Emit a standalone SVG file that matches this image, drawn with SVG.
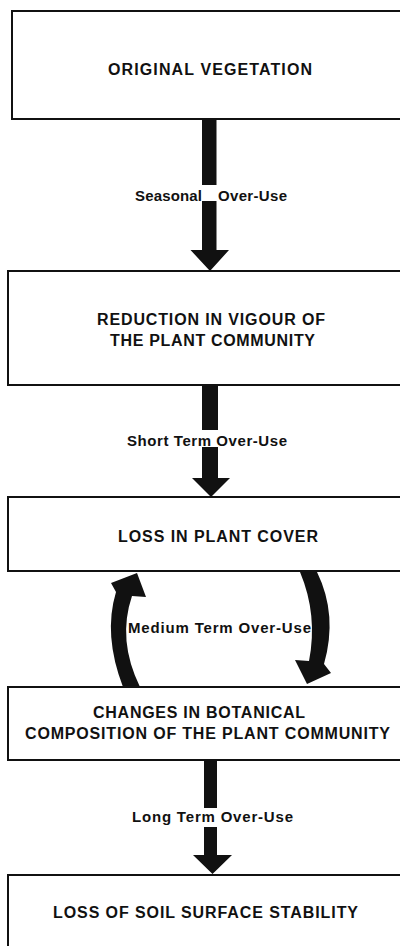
<svg xmlns="http://www.w3.org/2000/svg" width="400" height="946" viewBox="0 0 400 946">
<style>
.box{fill:#fff;stroke:#111;stroke-width:2}
.t{font-family:"Liberation Sans",Arial,sans-serif;font-weight:bold;font-size:16px;fill:#111}
.l{font-family:"Liberation Sans",Arial,sans-serif;font-weight:bold;font-size:15px;fill:#111}
.c{fill:#111;stroke:none}
</style>
<rect width="400" height="946" fill="#fff"/>
<g id="node1">
<rect class="box" x="12" y="11" width="400" height="108"/>
<text class="t" x="108" y="75" textLength="204" lengthAdjust="spacing">ORIGINAL VEGETATION</text>
</g>
<g id="node2">
<rect class="box" x="8" y="271" width="400" height="114"/>
<text class="t" x="97" y="325" textLength="228" lengthAdjust="spacing">REDUCTION IN VIGOUR OF</text>
<text class="t" x="110" y="346" textLength="205" lengthAdjust="spacing">THE PLANT COMMUNITY</text>
</g>
<g id="node3">
<rect class="box" x="8" y="497" width="400" height="74"/>
<text class="t" x="118" y="542" textLength="200" lengthAdjust="spacing">LOSS IN PLANT COVER</text>
</g>
<g id="node4">
<rect class="box" x="8" y="687" width="400" height="73"/>
<text class="t" x="93" y="718" textLength="212" lengthAdjust="spacing">CHANGES IN BOTANICAL</text>
<text class="t" x="25" y="739" textLength="365" lengthAdjust="spacing">COMPOSITION OF THE PLANT COMMUNITY</text>
</g>
<g id="node5">
<rect class="box" x="8" y="875" width="400" height="90"/>
<text class="t" x="53" y="918" textLength="305" lengthAdjust="spacing">LOSS OF SOIL SURFACE STABILITY</text>
</g>
<g id="connectors">
<path class="c" d="M202,120 H216.5 V185 H202 Z M202,201 H216.5 V250 H229 L210,271 L190.5,250 H202 Z"/>
<path class="c" d="M202,386 H218 V430 H202 Z M202,447 H218 V478 H230 L211,497 L192,478 H202 Z"/>
<path class="c" d="M204,761 H217 V808 H204 Z M204,827 H217 V855 H232 L212.5,874 L193,855 H204 Z"/>
<path class="c" d="M123,687 Q103,635 116,592 L111,583 L137,573 L146,597 L132,596 Q117,640 140,687 Z"/>
<path class="c" d="M300,572 Q318,615 309,661 L295,660 L307,684 L331,673 L324,664 Q338,615 317,572 Z"/>
<text class="l" x="135" y="200.5" font-size="14" textLength="67" lengthAdjust="spacing">Seasonal</text>
<text class="l" x="218" y="200.5" font-size="14" textLength="69" lengthAdjust="spacing">Over-Use</text>
<text class="l" x="127" y="446" textLength="160" lengthAdjust="spacing">Short Term Over-Use</text>
<text class="l" x="128" y="633" textLength="183" lengthAdjust="spacing">Medium Term Over-Use</text>
<text class="l" x="132" y="822" textLength="161" lengthAdjust="spacing">Long Term Over-Use</text>
</g>
</svg>
